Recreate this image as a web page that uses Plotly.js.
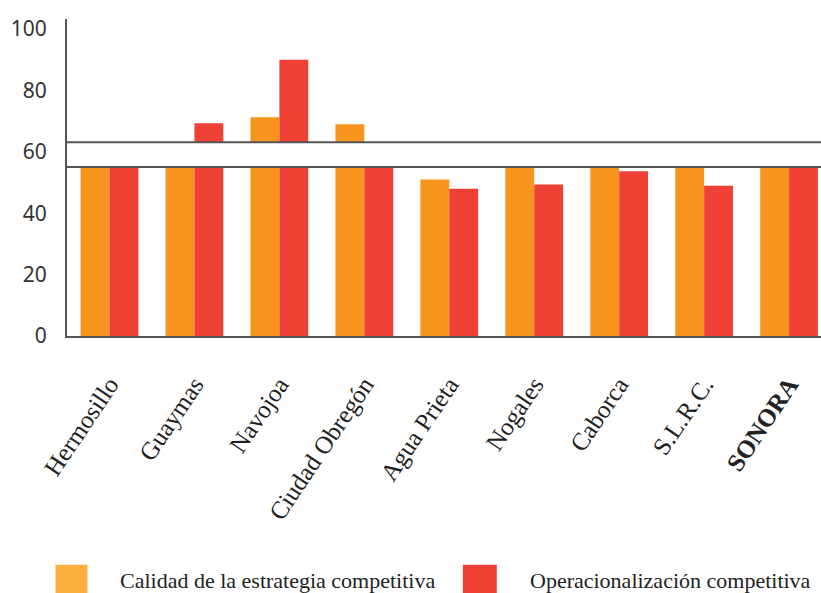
<!DOCTYPE html>
<html>
<head>
<meta charset="utf-8">
<script src="https://cdn.plot.ly/plotly-3.0.1.min.js"></script>
<style>html,body{margin:0;padding:0;background:#fff;}#chart{width:821px;height:593px;}</style>
</head>
<body>
<div id="chart"></div>
<script>
// Data
var categories = ["Hermosillo", "Guaymas", "Navojoa", "Ciudad Obregón", "Agua Prieta", "Nogales", "Caborca", "S.L.R.C.", "<b>SONORA</b>"];
var calidad = [59, 59, 71.3, 69.0, 51.0, 59, 59, 59, 59];
var operacionalizacion = [59, 69.3, 90.0, 59, 48.0, 49.4, 53.7, 49.0, 59];
var seriesNames = ["Calidad de la estrategia competitiva", "Operacionalización competitiva"];
var yTicks = [0, 20, 40, 60, 80, 100];
var breakLow = 55.1, breakHigh = 63.1;

var orange = "#F7941D", red = "#EF4136", legendOrange = "#FBB040";
var axisColor = "#555555";
var serif = "Liberation Serif, DejaVu Serif, serif";

var traces = [
  {type: "bar", x: categories, y: calidad, name: seriesNames[0], marker: {color: orange}, hoverinfo: "none"},
  {type: "bar", x: categories, y: operacionalizacion, name: seriesNames[1], marker: {color: red}, hoverinfo: "none"}
];

var layout = {
  width: 821, height: 593,
  margin: {l: 67, r: 0, t: 19, b: 257},
  paper_bgcolor: "#fff", plot_bgcolor: "#fff",
  barmode: "group", bargap: 0.32, bargroupgap: 0,
  showlegend: false,
  xaxis: {
    type: "category", range: [-0.5, 8.376],
    showline: true, linecolor: axisColor, linewidth: 2,
    showgrid: false, zeroline: false, ticks: "",
    tickangle: -56, ticklabelstandoff: 22,
    tickfont: {family: serif, size: 25, color: "#222"}
  },
  yaxis: {
    range: [0, 103.3], tickvals: yTicks, ticktext: yTicks.map(String),
    showline: true, linecolor: axisColor, linewidth: 2,
    showgrid: false, zeroline: false, ticks: "",
    ticklabelstandoff: 14,
    tickfont: {family: "Noto Sans, Open Sans, sans-serif", size: 21, color: "#333"}
  },
  shapes: [
    {type: "rect", xref: "paper", yref: "y", x0: 0.002, x1: 1, y0: breakLow, y1: breakHigh, fillcolor: "#fff", line: {width: 0}, layer: "above"},
    {type: "line", xref: "paper", yref: "y", x0: 0, x1: 1, y0: breakLow, y1: breakLow, line: {color: axisColor, width: 2}, layer: "above"},
    {type: "line", xref: "paper", yref: "y", x0: 0, x1: 1, y0: breakHigh, y1: breakHigh, line: {color: axisColor, width: 2}, layer: "above"},
    {type: "rect", xref: "paper", yref: "paper", x0: -0.0152, x1: 0.0272, y0: -0.722, y1: -0.82, fillcolor: legendOrange, line: {width: 0}},
    {type: "rect", xref: "paper", yref: "paper", x0: 0.525, x1: 0.570, y0: -0.722, y1: -0.82, fillcolor: red, line: {width: 0}}
  ],
  annotations: [
    {xref: "paper", yref: "paper", x: 0.0676, y: -0.770, xanchor: "left", yanchor: "middle", showarrow: false, text: seriesNames[0], font: {family: serif, size: 22, color: "#222"}},
    {xref: "paper", yref: "paper", x: 0.611, y: -0.770, xanchor: "left", yanchor: "middle", showarrow: false, text: seriesNames[1], font: {family: serif, size: 22, color: "#222"}}
  ]
};

Plotly.newPlot("chart", traces, layout, {displayModeBar: false, staticPlot: true});
</script>
</body>
</html>
